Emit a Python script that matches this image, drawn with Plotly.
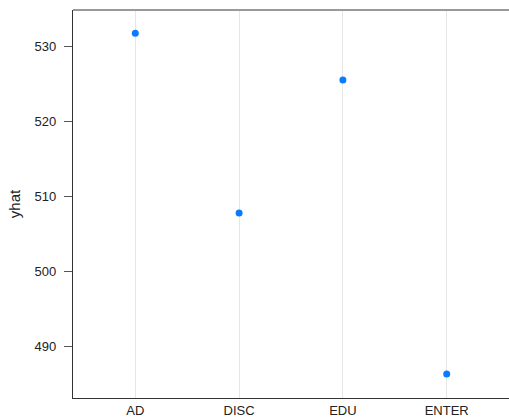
import plotly.graph_objects as go

categories = ["AD", "DISC", "EDU", "ENTER"]
yhat = [531.7, 507.8, 525.5, 486.4]
y_ticks = [490, 500, 510, 520, 530]

fig = go.Figure()
fig.add_trace(go.Scatter(
    x=list(range(len(categories))), y=yhat, mode="markers",
    marker=dict(color="#0A7BFF", size=7), hoverinfo="skip", showlegend=False,
))

fig.update_layout(
    width=509, height=418,
    margin=dict(l=73, r=0, t=10, b=20),
    plot_bgcolor="white", paper_bgcolor="white",
    font=dict(family="Liberation Sans, Arial, sans-serif", size=13, color="#333333"),
)
fig.update_xaxes(
    range=[-0.6, 3.6], tickvals=list(range(len(categories))), ticktext=categories,
    showgrid=True, gridcolor="#E6E6E6", gridwidth=1,
    showline=True, linecolor="#333333", linewidth=1.2,
    ticks="", zeroline=False, tickfont=dict(size=13, color="#222222"),
)
fig.update_yaxes(
    range=[483.2, 534.8], tickvals=y_ticks,
    showgrid=False, showline=True, linecolor="#333333", linewidth=1.2,
    ticks="outside", ticklen=8, tickcolor="#555555", tickwidth=1,
    ticklabelstandoff=5,
    zeroline=False, tickfont=dict(size=13, color="#222222"),
    title=dict(text="yhat", font=dict(size=15, color="#222222"), standoff=10),
)
fig.add_shape(type="line", xref="paper", yref="paper", x0=0, x1=1, y0=1, y1=1,
              line=dict(color="#999999", width=2))

fig.write_html("out.html")
